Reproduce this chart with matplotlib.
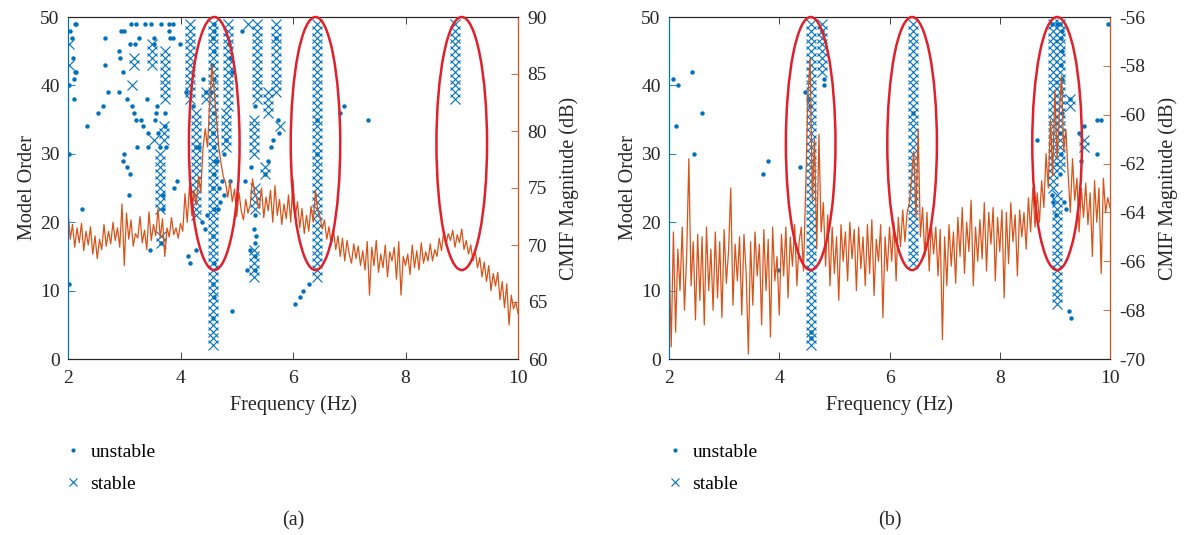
import numpy as np
import matplotlib.pyplot as plt
from matplotlib.patches import Ellipse
from matplotlib.lines import Line2D

plt.rcParams['font.family'] = ['Liberation Serif', 'DejaVu Serif']
plt.rcParams['axes.unicode_minus'] = False

BLUE = '#0072BD'
ORANGE = '#D95319'
RED = '#E0202A'
DARK = '#262626'

# stable poles, one entry per column: (frequency, lowest order, highest order)
stable_a = [(2.02, 46, 46), (2.02, 43, 43), (3.17, 43, 44), (3.14, 40, 40),
            (3.49, 43, 46), (3.52, 32, 32), (3.73, 38, 45), (3.71, 32, 34),
            (3.64, 22, 30), (3.66, 17, 18), (4.17, 38, 49), (4.27, 21, 36),
            (4.58, 2, 49), (4.46, 38, 39), (4.85, 37, 49), (4.80, 31, 36),
            (5.20, 49, 49), (5.36, 38, 49), (5.55, 36, 39), (5.70, 39, 49),
            (5.30, 30, 35), (5.76, 34, 34), (5.51, 27, 28), (5.33, 22, 25),
            (5.30, 12, 16), (6.42, 12, 49), (8.88, 38, 49)]

stable_b = [(4.57, 2, 49), (4.77, 42, 49), (6.43, 14, 49), (8.96, 25, 49),
            (9.03, 8, 24), (9.10, 28, 49), (9.27, 37, 38), (9.52, 31, 32)]

# unstable poles: (frequency, order)
unstable_a = [(2.01, 30), (2.01, 11), (2.02, 40), (2.04, 48), (2.07, 47), (2.12, 49),
              (2.15, 49), (2.08, 44), (2.12, 42), (2.15, 42), (2.10, 41), (2.10, 38),
              (2.25, 22), (2.34, 34), (2.53, 36), (2.63, 37), (2.66, 47), (2.65, 43),
              (2.71, 39), (2.91, 45), (2.92, 44), (2.91, 39), (2.94, 48), (3.00, 48),
              (2.97, 42), (2.97, 29), (3.00, 30), (3.05, 28), (3.10, 27), (3.09, 24),
              (3.04, 38), (3.12, 49), (3.21, 49), (3.10, 46), (3.19, 46), (3.14, 37),
              (3.17, 36), (3.21, 35), (3.26, 47), (3.23, 31), (3.30, 35), (3.34, 34),
              (3.37, 49), (3.41, 38), (3.43, 33), (3.43, 31), (3.45, 16), (3.48, 49),
              (3.52, 47), (3.52, 46), (3.55, 35), (3.57, 36), (3.58, 37), (3.60, 33),
              (3.65, 49), (3.64, 31), (3.65, 17), (3.69, 22), (3.79, 49), (3.79, 48),
              (3.82, 47), (3.86, 49), (3.86, 47), (3.72, 36), (3.73, 34), (3.75, 31),
              (3.69, 24), (3.89, 25), (3.94, 26), (3.99, 46), (4.10, 39), (4.13, 15),
              (4.16, 14), (4.23, 37), (4.28, 31), (4.33, 31), (4.27, 16), (4.39, 20),
              (4.44, 19), (4.47, 21), (4.46, 39), (4.40, 41),
              (4.60, 49), (4.60, 48), (4.58, 47), (4.60, 45), (4.56, 43), (4.60, 41),
              (4.55, 39), (4.60, 36), (4.58, 33), (4.60, 31), (4.62, 29), (4.60, 27),
              (4.58, 25), (4.60, 22), (4.58, 18), (4.60, 14), (4.58, 11), (4.60, 9),
              (4.58, 6), (4.64, 29), (4.69, 25), (4.71, 23), (4.66, 22), (4.74, 26),
              (4.78, 24), (4.87, 46), (4.88, 44), (4.91, 42), (4.81, 32), (4.78, 30),
              (4.88, 26), (4.92, 7), (5.10, 48), (5.15, 26), (5.26, 28), (5.24, 16),
              (5.19, 13), (5.32, 37), (5.32, 21), (5.31, 19), (5.34, 18), (5.33, 17),
              (5.32, 15), (5.32, 13), (5.50, 27), (5.56, 29), (5.60, 31), (5.64, 32),
              (5.69, 47), (5.73, 35), (5.75, 33), (6.04, 8), (6.12, 9), (6.18, 10),
              (6.28, 11), (6.43, 35), (6.42, 30), (6.83, 36), (6.91, 37), (7.34, 35)]

unstable_b = [(2.07, 41), (2.17, 40), (2.13, 34), (2.42, 42), (2.46, 30), (2.59, 36),
              (3.71, 27), (3.80, 29), (3.97, 13), (4.38, 28), (4.47, 39), (4.52, 38),
              (4.55, 37), (4.57, 4), (4.57, 3), (4.77, 48), (4.81, 41), (4.81, 40),
              (6.43, 36), (8.68, 32), (8.94, 49), (9.04, 49), (9.10, 49), (9.13, 48),
              (9.12, 47), (9.13, 45), (9.12, 43), (9.13, 41), (9.12, 39), (9.13, 36),
              (9.10, 33), (9.12, 30), (9.10, 27), (8.94, 24), (8.97, 23), (9.02, 21),
              (9.17, 23), (9.20, 22), (9.26, 7), (9.29, 6), (9.28, 38), (9.43, 33),
              (9.53, 34), (9.47, 29), (9.76, 35), (9.83, 35), (9.76, 30), (9.96, 49)]

# CMIF magnitude (dB), 2 to 10 Hz in equal steps
cmif_a = [73.0, 70.5, 71.8, 69.8, 71.5, 70.2, 71.9, 69.5, 71.2, 70.0, 71.6,
          69.2, 70.8, 68.8, 70.5, 69.6, 71.8, 69.9, 71.2, 70.1, 72.0,
          70.4, 71.5, 69.8, 73.6, 68.2, 72.8, 70.5, 72.2, 69.9, 71.0,
          70.6, 72.5, 70.2, 71.3, 69.6, 72.9, 70.4, 71.8, 70.8, 73.2,
          70.6, 72.3, 69.0, 71.5, 70.7, 72.4, 70.9, 71.5, 70.6, 71.9,
          71.2, 74.5, 72.0, 75.2, 72.6, 74.8, 73.5, 76.0, 74.6, 78.5,
          80.2, 78.6, 82.5, 85.8, 83.5, 81.0, 78.6, 77.2, 76.0, 75.5,
          74.2, 75.6, 73.8, 74.9, 72.5, 74.6, 73.0, 72.2, 74.0, 72.8,
          73.5, 75.8, 74.6, 74.0, 73.2, 75.0, 72.4, 74.2, 73.0, 74.8,
          72.0, 75.2, 72.6, 74.0, 71.8, 73.6, 72.3, 74.4, 72.0, 75.8,
          72.4, 73.8, 71.5, 73.2, 71.0, 72.6, 71.2, 73.4, 72.0, 74.8,
          73.0, 72.5, 71.4, 72.2, 70.5, 71.6, 70.0, 71.3, 69.6, 70.8,
          69.0, 70.6, 68.6, 70.4, 69.2, 68.4, 70.1, 68.8, 69.9, 68.2,
          69.5, 67.8, 70.3, 65.6, 69.8, 68.2, 70.4, 67.6, 69.2, 68.0,
          70.0, 67.2, 69.4, 68.6, 69.8, 67.0, 70.3, 65.6, 69.0, 68.2,
          69.2, 67.4, 70.0, 68.0, 69.5, 67.8, 70.2, 68.4, 69.4, 68.6,
          70.1, 68.6, 69.6, 69.0, 70.6, 69.5, 71.2, 70.0, 71.0, 70.4,
          71.3, 69.8, 70.9, 70.2, 71.4, 69.6, 70.4, 69.2, 70.0, 68.6,
          69.5, 68.0, 68.9, 67.2, 68.5, 66.8, 68.2, 66.0, 67.5, 66.4,
          67.6, 65.2, 66.8, 64.5, 66.6, 63.0, 65.6, 64.4, 65.0, 64.0]

cmif_b = [-65.4, -69.5, -64.8, -68.9, -65.5, -67.2, -64.6, -68.0, -65.8, -61.8, -67.0,
          -65.2, -68.4, -64.9, -67.6, -65.0, -68.6, -64.6, -67.2, -65.5, -68.0,
          -64.8, -67.5, -65.2, -68.3, -64.7, -66.9, -65.6, -63.0, -67.8, -65.3,
          -66.8, -65.0, -68.2, -64.9, -66.5, -69.8, -65.2, -67.8, -64.8, -66.6,
          -65.3, -68.6, -64.7, -67.2, -65.1, -69.1, -64.6, -66.8, -65.8, -68.2,
          -64.9, -66.6, -64.6, -67.5, -65.0, -66.2, -64.5, -67.0, -65.2, -64.6,
          -66.4, -63.0, -59.2, -57.7, -63.5, -61.0, -65.5, -60.8, -64.8, -63.6,
          -66.2, -64.1, -67.0, -64.6, -66.5, -65.0, -67.6, -64.5, -66.0, -64.8,
          -66.8, -64.4, -65.9, -64.7, -67.2, -64.6, -66.3, -65.0, -67.0, -64.5,
          -66.5, -64.3, -67.4, -65.1, -66.0, -64.5, -68.3, -65.0, -66.4, -64.6,
          -66.0, -64.4, -66.8, -64.2, -65.4, -63.9, -65.2, -64.0, -63.6, -62.6,
          -61.5, -64.2, -60.6, -65.0, -63.8, -65.8, -64.0, -66.4, -64.5, -65.7,
          -64.6, -66.6, -64.7, -69.2, -65.0, -67.0, -64.5, -66.2, -64.8, -66.9,
          -64.2, -65.8, -63.8, -66.5, -64.4, -65.6, -63.5, -67.0, -64.6, -66.0,
          -64.3, -65.9, -63.6, -66.4, -64.0, -65.3, -63.8, -66.8, -64.2, -65.6,
          -63.9, -67.5, -64.0, -66.1, -63.6, -65.2, -64.1, -66.6, -63.9, -65.0,
          -64.0, -65.5, -63.4, -64.8, -63.0, -64.6, -63.2, -64.4, -62.7, -63.8,
          -61.6, -63.0, -60.2, -62.5, -59.0, -61.8, -60.0, -58.4, -61.5, -60.6,
          -62.4, -64.0, -61.8, -63.5, -62.6, -64.8, -63.0, -64.2, -62.8, -64.5,
          -63.2, -65.8, -62.7, -64.4, -63.0, -66.5, -62.6, -64.0, -63.4, -63.8]

# circled modes: (centre frequency, width in Hz)
modes_a = [(4.60, 0.90), (6.40, 0.88), (9.00, 0.90)]
modes_b = [(4.57, 0.90), (6.41, 0.90), (9.04, 0.90)]


def expand(cols):
    f, n = [], []
    for freq, lo, hi in cols:
        for k in range(lo, hi + 1):
            f.append(freq)
            n.append(k)
    return f, n


def panel(rect, stable, unstable, cmif, ylim2, yticks2, modes, tag, leg_x):
    ax = fig.add_axes(rect)
    fs, ns = expand(stable)
    ax.plot(fs, ns, 'x', color=BLUE, ms=7, mew=0.8, zorder=3)
    fu = [p[0] for p in unstable]
    nu = [p[1] for p in unstable]
    ax.plot(fu, nu, 'o', color=BLUE, ms=3.2, mew=0, zorder=3)
    ax.set_xlim(2, 10)
    ax.set_ylim(0, 50)
    ax.set_xticks([2, 4, 6, 8, 10])
    ax.set_yticks(range(0, 51, 10))
    ax.set_xlabel('Frequency (Hz)', fontsize=14.5, color=DARK, labelpad=6)
    ax.set_ylabel('Model Order', fontsize=14.5, color=DARK, labelpad=2)
    ax.tick_params(axis='x', direction='in', length=5, top=True, pad=8,
                   labelsize=14, colors=DARK, width=0.6)
    ax.tick_params(axis='y', direction='in', length=5, pad=6,
                   labelsize=14, color=BLUE, labelcolor=DARK, width=0.6)
    for s in ['top', 'bottom']:
        ax.spines[s].set_color(DARK)
        ax.spines[s].set_linewidth(0.8)
    ax.spines['left'].set_color(BLUE)

    ax2 = ax.twinx()
    freq = np.linspace(2, 10, len(cmif))
    ax2.plot(freq, cmif, color=ORANGE, lw=0.9, zorder=2)
    ax2.set_ylim(*ylim2)
    ax2.set_yticks(yticks2)
    ax2.set_ylabel('CMIF Magnitude (dB)', fontsize=14.5, color=DARK, labelpad=9)
    ax2.tick_params(axis='y', direction='in', length=5, pad=7,
                    labelsize=14, color=ORANGE, labelcolor=DARK, width=0.6)
    ax2.spines['right'].set_color(ORANGE)
    ax2.spines['left'].set_color(BLUE)
    ax2.spines['top'].set_color(DARK)
    ax2.spines['bottom'].set_color(DARK)

    for fc, w in modes:
        e = Ellipse((fc, 31.5), w, 37, fill=False, ec=RED, lw=1.8,
                    transform=ax.transData, clip_on=False, zorder=5)
        ax2.add_patch(e)

    handles = [Line2D([], [], ls='none', marker='o', ms=3, mew=0, color=BLUE),
               Line2D([], [], ls='none', marker='x', ms=5.5, mew=0.8, color=BLUE)]
    fig.legend(handles, ['unstable', 'stable'], loc='upper left',
               bbox_to_anchor=(leg_x / 1191, 1 - 443 / 535), frameon=False,
               fontsize=14, handlelength=0.8, handletextpad=0.5,
               labelspacing=0.75, borderpad=0, borderaxespad=0)
    cx = rect[0] + rect[2] / 2
    fig.text(cx, 1 - 521 / 535, tag, ha='center', va='center', fontsize=14.5, color=DARK)
    return ax


fig = plt.figure(figsize=(11.91, 5.35), dpi=100)
bottom = 1 - 359 / 535
height = 342 / 535
panel([68 / 1191, bottom, 450 / 1191, height], stable_a, unstable_a, cmif_a,
      (60, 90), range(60, 91, 5), modes_a, '(a)', 65)
panel([669 / 1191, bottom, 441 / 1191, height], stable_b, unstable_b, cmif_b,
      (-70, -56), range(-70, -55, 2), modes_b, '(b)', 667)

fig.savefig('out.png', dpi=100)
